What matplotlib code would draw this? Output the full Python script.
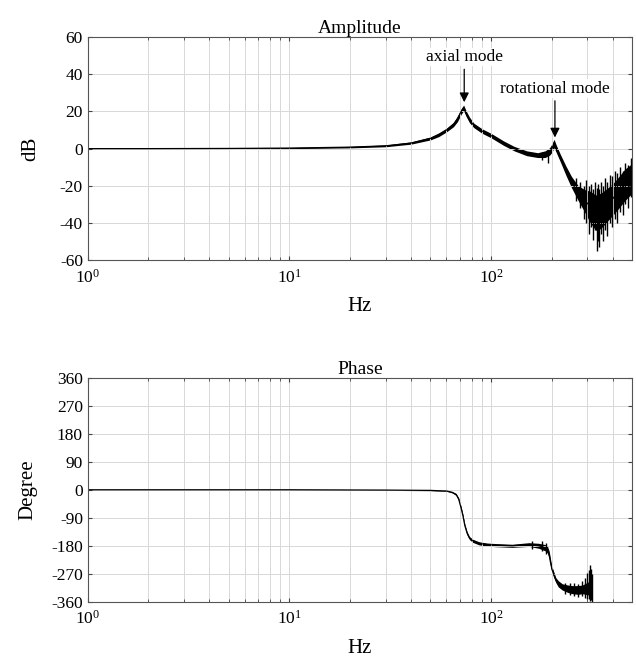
import matplotlib
matplotlib.use("Agg")
import matplotlib.pyplot as plt

plt.rcParams["font.family"] = ["Liberation Serif", "DejaVu Serif"]
plt.rcParams["mathtext.fontset"] = "stix"
plt.rcParams["axes.unicode_minus"] = False

# amplitude response (dB): centre line and noise envelope
amp_freq = [1, 2, 5, 10, 20, 30, 40, 50, 55, 60, 65, 68, 71, 73, 75, 78, 82, 90, 100, 115,
            130, 150, 170, 185, 195, 200, 205, 210, 220, 235, 250, 270, 290, 310, 330, 350,
            370, 400, 430, 460, 500]
amp_mid = [0, 0, 0.1, 0.3, 0.8, 1.5, 3, 5.5, 7.5, 10, 13, 16, 20, 22, 19, 15.5, 12.5, 9.5, 7, 3,
           0, -2.5, -3.5, -3, -1.5, 0, 3, 0, -5, -12, -18, -24, -28, -31, -34, -33,
           -31, -27, -23, -19, -15]
amp_lo = [-0.2, -0.2, -0.2, 0, 0.4, 1, 2.4, 4.7, 6.5, 9, 11.8, 14.5, 18.5, 20.5, 17.5, 14, 11.3, 8.3, 5.8, 1.8,
          -1.2, -3.8, -4.8, -4.8, -3.5, -2, 0.5, -2, -7, -14.5, -21, -28, -34, -40, -44, -43,
          -40, -36, -32, -28, -24]
amp_hi = [0.2, 0.2, 0.4, 0.6, 1.2, 2, 3.6, 6.3, 8.5, 11, 14.2, 17.5, 21.5, 23.5, 20.5, 17, 13.7, 10.7, 8.2, 4.2,
          1.2, -1.2, -2.2, -1.2, 0.5, 2.5, 5, 2, -3, -9.5, -15, -20, -22, -23, -25, -24,
          -22, -19, -15, -11, -8]

# single noise spikes in the high-frequency band
amp_spk_freq = [178, 192, 262, 275, 288, 296, 305, 312, 320, 326, 333, 338, 344, 352, 360, 368,
                377, 388, 398, 410, 422, 435, 448, 462, 478, 492]
amp_spk_lo = [-6, -8, -28, -32, -38, -40, -46, -42, -49, -44, -55, -50, -53, -46, -50, -44,
              -47, -40, -42, -38, -40, -34, -36, -30, -32, -26]
amp_spk_hi = [-2, -1, -16, -18, -20, -17, -20, -19, -22, -18, -21, -19, -22, -18, -20, -16,
              -18, -14, -15, -12, -13, -10, -12, -8, -9, -5]

# phase response (degree)
ph_freq = [1, 10, 30, 50, 60, 64, 67, 69, 71, 72.5, 74, 76, 78, 81, 87, 95, 106, 127, 154, 172,
           185, 190, 194, 197, 200, 205, 209, 215, 225, 240, 253, 270, 283, 295, 303, 310, 316]
ph_mid = [0, 0, -1, -2, -4, -8, -15, -30, -60, -85, -115, -140, -155, -164, -172, -176, -178, -180, -176, -180,
          -186, -192, -210, -235, -255, -275, -290, -302, -312, -318, -321, -322, -320, -318, -316, -318, -320]
ph_lo = [-1, -1, -2, -3, -5, -10, -18, -34, -65, -90, -120, -145, -160, -169, -177, -181, -183, -185, -182, -188,
         -196, -203, -222, -246, -264, -284, -298, -312, -322, -330, -334, -336, -334, -336, -338, -340, -342]
ph_hi = [1, 1, 0, -1, -3, -6, -12, -26, -55, -80, -110, -135, -150, -159, -167, -171, -173, -175, -170, -172,
         -176, -181, -198, -224, -246, -266, -282, -292, -302, -306, -308, -308, -306, -300, -296, -298, -300]
ph_spk_freq = [160, 178, 188, 232, 245, 258, 270, 282, 292, 298, 304, 308, 312, 315]
ph_spk_lo = [-190, -196, -205, -334, -338, -340, -344, -342, -348, -352, -350, -358, -355, -360]
ph_spk_hi = [-166, -165, -170, -300, -298, -300, -302, -292, -282, -268, -258, -243, -255, -272]

xlim = (1, 500)


def style_axes(ax, yticks):
    ax.set_xscale("log")
    ax.set_xlim(*xlim)
    ax.set_ylim(yticks[0], yticks[-1])
    ax.set_yticks(yticks)
    ax.grid(True, which="major", color="#d8d8d8", lw=0.7)
    ax.grid(True, which="minor", axis="x", color="#d8d8d8", lw=0.7)
    ax.tick_params(which="both", direction="in", top=True, right=True, labelsize=12.5,
                   color="#444444", length=3)
    ax.tick_params(which="minor", length=2)
    ax.tick_params(axis="x", pad=6)
    for sp in ax.spines.values():
        sp.set_color("#555555")
        sp.set_linewidth(0.8)
    ax.set_xlabel("Hz", fontsize=15, labelpad=8)


fig = plt.figure(figsize=(6.36, 6.65), dpi=100)
ax1 = fig.add_axes([0.138, 0.609, 0.856, 0.335])
ax2 = fig.add_axes([0.138, 0.095, 0.856, 0.337])

ax1.fill_between(amp_freq, amp_lo, amp_hi, color="black", lw=0)
ax1.plot(amp_freq, amp_mid, color="black", lw=0.9)
ax1.vlines(amp_spk_freq, amp_spk_lo, amp_spk_hi, color="black", lw=1.0)
style_axes(ax1, list(range(-60, 61, 20)))
ax1.set_ylabel("dB", fontsize=15, labelpad=14)
ax1.set_title("Amplitude", fontsize=14, pad=3)

arrow = dict(arrowstyle="-|>", color="black", lw=0.9, mutation_scale=14, shrinkA=2, shrinkB=0)
ax1.annotate("axial mode", xy=(73.5, 25), xytext=(73.5, 45), ha="center", va="bottom",
             fontsize=12.5, bbox=dict(fc="white", ec="none", pad=1), arrowprops=arrow)
ax1.annotate("rotational mode", xy=(207, 6), xytext=(207, 28), ha="center", va="bottom",
             fontsize=12.5, bbox=dict(fc="white", ec="none", pad=1), arrowprops=arrow)

ax2.fill_between(ph_freq, ph_lo, ph_hi, color="black", lw=0)
ax2.plot(ph_freq, ph_mid, color="black", lw=0.9)
ax2.vlines(ph_spk_freq, ph_spk_lo, ph_spk_hi, color="black", lw=1.0)
style_axes(ax2, list(range(-360, 361, 90)))
ax2.set_ylabel("Degree", fontsize=15, labelpad=10)
ax2.set_title("Phase", fontsize=14, pad=3)

fig.savefig("out.png", dpi=100)
